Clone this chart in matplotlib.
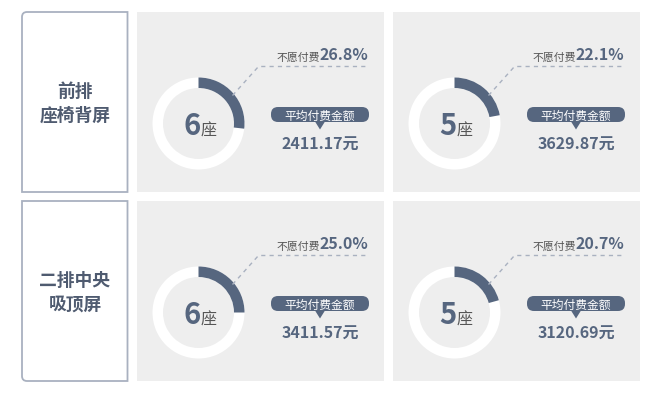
import matplotlib
matplotlib.use("Agg")
import matplotlib.pyplot as plt
from matplotlib.patches import Wedge, FancyBboxPatch, Polygon, PathPatch
from matplotlib.path import Path

plt.rcParams['font.family'] = ['Noto Sans CJK SC', 'DejaVu Sans']

# ---- data ----
row_labels = [["前排", "座椅背屏"], ["二排中央", "吸顶屏"]]
seats = [["6", "5"], ["6", "5"]]
unwilling_pct = [[26.8, 22.1], [25.0, 20.7]]
avg_fee = [[2411.17, 3629.87], [3411.57, 3120.69]]
seat_unit = "座"
unwilling_label = "不愿付费"
fee_label = "平均付费金额"
fee_unit = "元"

DARK = "#56667f"
LINE = "#a9b1c0"
GREY_TXT = "#555555"
PANEL = "#eeeeee"

W, H = 650, 402
fig = plt.figure(figsize=(W / 100, H / 100), dpi=100)
ax = fig.add_axes([0, 0, 1, 1])
ax.set_xlim(0, W)
ax.set_ylim(H, 0)
ax.axis('off')
renderer = fig.canvas.get_renderer()


def rich(x, y, pieces, ha='left'):
    """pieces: list of (text, kwargs). laid out horizontally on a baseline."""
    objs, widths = [], []
    for s, kw in pieces:
        t = ax.text(0, y, s, ha='left', va='baseline', **kw)
        bb = t.get_window_extent(renderer=renderer)
        objs.append(t)
        widths.append(bb.width)
    total = sum(widths)
    if ha == 'right':
        x0 = x - total
    elif ha == 'center':
        x0 = x - total / 2
    else:
        x0 = x
    for t, w in zip(objs, widths):
        t.set_x(x0)
        x0 += w


def side_box(x0, y0, x1, y1, round_corner):
    r = 5
    if round_corner == 'tl':
        verts = [(x1, y0), (x0 + r, y0), (x0, y0), (x0, y0 + r), (x0, y1), (x1, y1), (x1, y0)]
        codes = [Path.MOVETO, Path.LINETO, Path.CURVE3, Path.CURVE3, Path.LINETO, Path.LINETO, Path.CLOSEPOLY]
    else:
        verts = [(x1, y0), (x0, y0), (x0, y1 - r), (x0, y1), (x0 + r, y1), (x1, y1), (x1, y0)]
        codes = [Path.MOVETO, Path.LINETO, Path.LINETO, Path.CURVE3, Path.CURVE3, Path.LINETO, Path.CLOSEPOLY]
    ax.add_patch(PathPatch(Path(verts, codes), facecolor='white', edgecolor=LINE, lw=1.3))


row_tops = [13, 202]
row_h = 180
panel_x = [137, 393]
panel_w = 247

for r in range(2):
    y0 = row_tops[r]
    side_box(22, y0, 127.5, y0 + row_h, 'tl' if r == 0 else 'bl')
    labs = row_labels[r]
    ax.text(75, y0 + 84, labs[0], ha='center', va='baseline', fontsize=12.8,
            fontweight='bold', color="#4f5b70")
    ax.text(75, y0 + 108, labs[1], ha='center', va='baseline', fontsize=12.8,
            fontweight='bold', color="#4f5b70")
    for c in range(2):
        px = panel_x[c]
        ax.add_patch(plt.Rectangle((px, y0), panel_w, row_h, facecolor=PANEL, edgecolor='none'))
        cx, cy = px + 61.5, y0 + 111.5
        p = unwilling_pct[r][c]
        # donut
        ax.add_patch(Wedge((cx, cy), 46, -90, 270, width=10.5, facecolor='white', edgecolor='none'))
        ax.add_patch(Wedge((cx, cy), 46, -90, -90 + 360 * p / 100, width=10.5,
                           facecolor=DARK, edgecolor='none'))
        rich(cx + 1.5, cy + 11, [(seats[r][c], dict(fontsize=21, fontweight='bold', color=DARK)),
                                 (seat_unit, dict(fontsize=11.5, color=GREY_TXT))], ha='center')
        # leader line
        ax.plot([cx + 34, cx + 60, cx + 170], [cy - 28, cy - 57, cy - 57], color=LINE,
                lw=1.0, ls=(0, (3, 3)))
        rich(cx + 170, cy - 64, [(unwilling_label, dict(fontsize=7.8, color=GREY_TXT)),
                                 (f"{p:.1f}%", dict(fontsize=11.5, fontweight='bold', color=DARK))],
             ha='right')
        # badge
        bx0, bx1 = cx + 72.5, cx + 170.5
        by0, by1 = cy - 16.5, cy - 1.5
        mx = (bx0 + bx1) / 2
        ax.add_patch(FancyBboxPatch((bx0, by0), bx1 - bx0, by1 - by0,
                                    boxstyle="round,pad=0,rounding_size=7",
                                    facecolor=DARK, edgecolor='none'))
        ax.add_patch(Polygon([(mx - 5, by1 - 0.5), (mx + 5, by1 - 0.5), (mx, by1 + 7.5)],
                             closed=True, facecolor=DARK, edgecolor='none'))
        ax.text(mx, (by0 + by1) / 2 + 0.5, fee_label, ha='center', va='center',
                fontsize=8.5, color='white')
        ax.text(mx, cy + 25, f"{avg_fee[r][c]:.2f}{fee_unit}", ha='center', va='baseline',
                fontsize=11.5, fontweight='bold', color=DARK)

fig.savefig("out.png", dpi=100)
